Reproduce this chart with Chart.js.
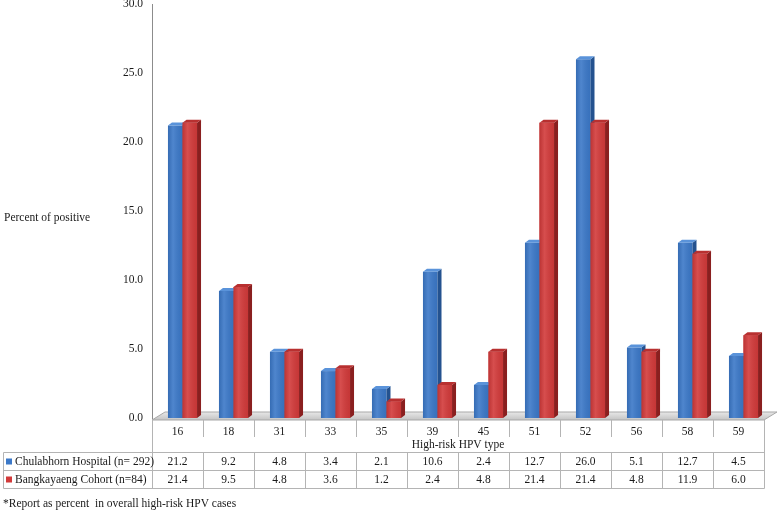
<!DOCTYPE html>
<html><head><meta charset="utf-8">
<script src="https://cdn.jsdelivr.net/npm/chart.js@4"></script>
<style>html,body{margin:0;padding:0;background:#fff}#wrap{width:778px;height:511px;position:relative}</style>
</head><body><div id="wrap"><canvas id="c" width="778" height="511"></canvas></div>
<script>
const categories = ['16','18','31','33','35','39','45','51','52','56','58','59'];
const chulabhorn = [21.2,9.2,4.8,3.4,2.1,10.6,2.4,12.7,26.0,5.1,12.7,4.5];
const bangkayaeng = [21.4,9.5,4.8,3.6,1.2,2.4,4.8,21.4,21.4,4.8,11.9,6.0];
const seriesNames = ['Chulabhorn Hospital (n= 292)','Bangkayaeng Cohort (n=84)'];
const yMin = 0, yMax = 30, yStep = 5;
const yTitle = 'Percent of positive';
const xTitle = 'High-risk HPV type';
const footnote = '*Report as percent  in overall high-risk HPV cases';

const FONT = 'Liberation Serif, Times New Roman, serif';
const FS = 11.5;
const colors = [
  {front:'#3B78C8', side:'#24528F', top:'#5A93DA'},
  {front:'#D23A3A', side:'#8A1F1F', top:'#B83030'}
];
const SHIFT = 5, DX = 4, DY = 3;

function faces(ctx, meta, c){
  meta.data.forEach(el => {
    const {x, y, base, width} = el.getProps(['x','y','base','width'], true);
    const l = x - width/2, r = x + width/2;
    const g = ctx.createLinearGradient(l, 0, r, 0);
    g.addColorStop(0, 'rgba(0,0,0,0.10)');
    g.addColorStop(0.35, 'rgba(255,255,255,0.10)');
    g.addColorStop(1, 'rgba(0,0,0,0.06)');
    ctx.fillStyle = g; ctx.fillRect(l, y, width, base - y);
    ctx.beginPath();
    ctx.moveTo(r, y); ctx.lineTo(r+DX, y-DY); ctx.lineTo(r+DX, base-DY); ctx.lineTo(r, base); ctx.closePath();
    ctx.fillStyle = c.side; ctx.fill();
    ctx.beginPath();
    ctx.moveTo(l, y); ctx.lineTo(l+DX, y-DY); ctx.lineTo(r+DX, y-DY); ctx.lineTo(r, y); ctx.closePath();
    ctx.fillStyle = c.top; ctx.fill();
  });
}

const threeD = {
  id:'threeD',
  beforeDatasetsDraw(chart){
    const ctx = chart.ctx, a = chart.chartArea;
    ctx.save();
    ctx.beginPath();
    ctx.moveTo(a.left, a.bottom+2);
    ctx.lineTo(a.left+13, a.bottom-6);
    ctx.lineTo(a.right+13, a.bottom-6);
    ctx.lineTo(a.right, a.bottom+2);
    ctx.closePath();
    const g = ctx.createLinearGradient(0, a.bottom-6, 0, a.bottom+2);
    g.addColorStop(0,'#e8e8e8'); g.addColorStop(1,'#c4c4c4');
    ctx.fillStyle = g; ctx.fill();
    ctx.strokeStyle = '#a8a8a8'; ctx.lineWidth = 1; ctx.stroke();
    ctx.restore();
    ctx.save();
    ctx.translate(SHIFT, 0);
  },
  afterDatasetDraw(chart, args){
    if (args.index !== 0) return;
    const ctx = chart.ctx;
    faces(ctx, args.meta, colors[0]);
    const redMeta = chart.getDatasetMeta(1);
    redMeta.data.forEach(el => el.draw(ctx, chart.chartArea));
    faces(ctx, redMeta, colors[1]);
  },
  afterDatasetsDraw(chart){
    chart.ctx.restore();
  }
};

const table = {
  id:'table',
  afterDraw(chart){
    const ctx = chart.ctx, a = chart.chartArea, xs = chart.scales.x;
    const n = categories.length;
    const bounds = [];
    for (let i=0;i<=n;i++) bounds.push(Math.round(xs.getPixelForValue(i-0.5))+0.5);
    const yTop = a.bottom + 2, yCat = 437, yR1 = 452.5, yR2 = 470.5, yR3 = 488.5, xL = 3.5;
    ctx.save();
    ctx.strokeStyle = '#b4b4b4'; ctx.lineWidth = 1;
    ctx.beginPath();
    for (let i=1;i<n;i++){ ctx.moveTo(bounds[i], yTop); ctx.lineTo(bounds[i], yCat); }
    ctx.moveTo(bounds[0], yTop); ctx.lineTo(bounds[0], yR3);
    ctx.moveTo(bounds[n], yTop); ctx.lineTo(bounds[n], yR3);
    for (let i=1;i<n;i++){ ctx.moveTo(bounds[i], yR1); ctx.lineTo(bounds[i], yR3); }
    ctx.moveTo(xL, yR1); ctx.lineTo(xL, yR3);
    [yR1,yR2,yR3].forEach(y=>{ ctx.moveTo(xL, y); ctx.lineTo(bounds[n], y); });
    ctx.stroke();

    ctx.fillStyle = '#1a1a1a';
    ctx.font = FS + 'px ' + FONT;
    ctx.textBaseline = 'middle';
    ctx.textAlign = 'center';
    ctx.fillText(xTitle, (a.left+a.right)/2, 445);
    const rows = [chulabhorn, bangkayaeng];
    const rowY = [461.5, 479.5];
    rows.forEach((vals, r) => {
      vals.forEach((v,i)=>{
        ctx.fillText(v.toFixed(1), xs.getPixelForValue(i), rowY[r]);
      });
    });
    ctx.textAlign = 'left';
    rows.forEach((vals, r) => {
      ctx.fillStyle = colors[r].front;
      ctx.fillRect(6, rowY[r]-3, 6, 6);
      ctx.fillStyle = '#1a1a1a';
      ctx.fillText(seriesNames[r], 15, rowY[r]);
    });
    ctx.fillText(yTitle, 4, 218);
    ctx.fillText(footnote, 3, 504);
    ctx.restore();
  }
};

new Chart(document.getElementById('c'), {
  type:'bar',
  data:{
    labels: categories,
    datasets:[
      {label: seriesNames[0], data: chulabhorn, backgroundColor: colors[0].front,
       categoryPercentage: 0.57, barPercentage: 1.0},
      {label: seriesNames[1], data: bangkayaeng, backgroundColor: colors[1].front,
       categoryPercentage: 0.57, barPercentage: 1.0}
    ]
  },
  options:{
    responsive:false,
    animation:false,
    devicePixelRatio:1,
    layout:{padding:{left:0, right:14, top:4, bottom:0}},
    plugins:{legend:{display:false}, tooltip:{enabled:false}},
    scales:{
      x:{
        grid:{display:false, drawTicks:false},
        border:{display:false},
        ticks:{font:{family:FONT, size:FS}, color:'#1a1a1a', padding:7, maxRotation:0, autoSkip:false},
        afterFit(s){ s.height = 93; }
      },
      y:{
        min:yMin, max:yMax,
        grid:{display:false, drawTicks:false},
        border:{display:true, color:'#8c8c8c', width:1},
        ticks:{stepSize:yStep, font:{family:FONT, size:FS}, color:'#1a1a1a', padding:9,
               callback:v=>Number(v).toFixed(1)},
        afterFit(s){ s.width = 152; s.paddingTop = 0; s.paddingBottom = 0; }
      }
    }
  },
  plugins:[threeD, table]
});
</script>
</body></html>
